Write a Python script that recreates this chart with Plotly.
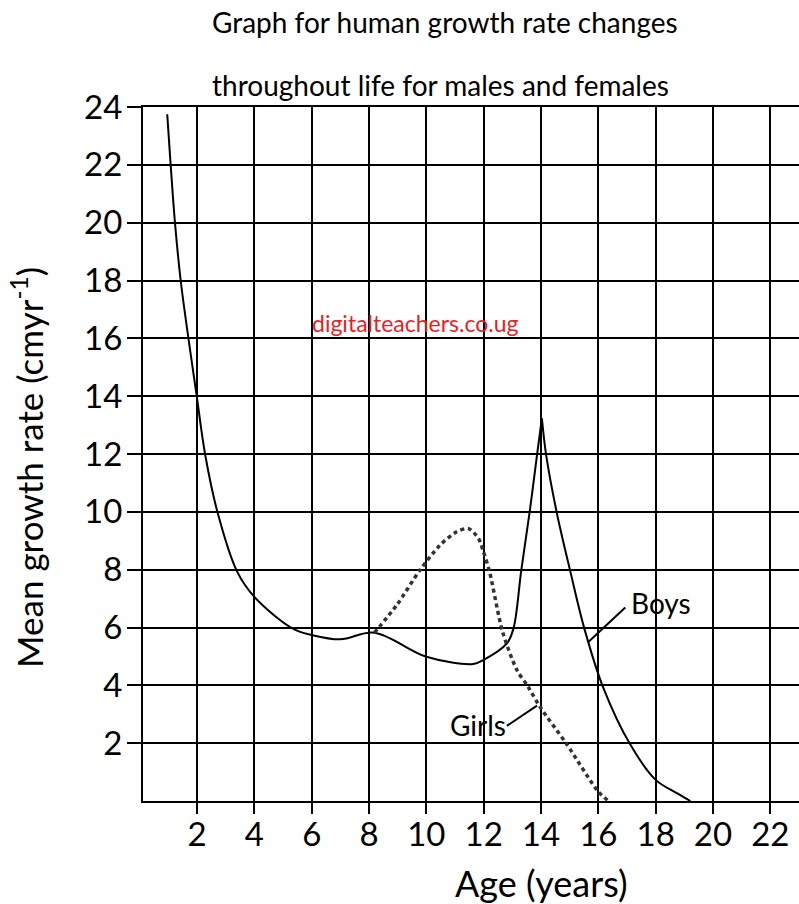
import plotly.graph_objects as go

# Boys curve (age in years, mean growth rate in cm/yr)
boys_age = [0.96, 1.08, 1.23, 1.43, 1.70, 1.99, 2.28, 2.71, 3.39, 4.0, 5.36, 6.0, 7.0, 8.19,
            10.0, 11.64, 12.0, 12.81, 13.04, 13.31, 13.6, 13.86, 14.03,
            14.18, 14.55, 15.02, 15.51, 16.16, 17.11, 18.0, 18.74, 19.21]
boys_rate = [23.75, 22.0, 20.0, 18.0, 16.0, 14.0, 12.0, 10.0, 7.95, 7.06, 5.95, 5.74, 5.59, 5.82,
             4.99, 4.74, 4.88, 5.45, 5.97, 7.97, 9.97, 11.96, 13.23,
             11.96, 9.97, 7.95, 5.97, 3.95, 1.96, 0.73, 0.27, 0.0]
boys_peak = 22  # index of the sharp peak at 14 years

# Girls curve (dotted), branches off the boys curve at 8 years
girls_age = [8.19, 8.97, 9.78, 10.48, 11.06, 11.47, 11.82, 11.99, 12.2, 12.66, 13.16, 13.55,
             13.97, 14.9, 16.0, 16.36]
girls_rate = [5.82, 6.78, 7.99, 8.85, 9.31, 9.42, 9.08, 8.62, 7.95, 5.85, 4.53, 3.95,
              3.25, 1.96, 0.32, 0.0]

x_ticks = [2, 4, 6, 8, 10, 12, 14, 16, 18, 20, 22]
y_ticks = [2, 4, 6, 8, 10, 12, 14, 16, 18, 20, 22, 24]

FONT = "Lato"

fig = go.Figure()

line_style = dict(color="black", width=2, shape="spline", smoothing=1.0)
# split at the peak so the spike keeps its point
fig.add_trace(go.Scatter(x=boys_age[:boys_peak + 1], y=boys_rate[:boys_peak + 1],
                         mode="lines", line=line_style, hoverinfo="skip"))
fig.add_trace(go.Scatter(x=boys_age[boys_peak:], y=boys_rate[boys_peak:],
                         mode="lines", line=line_style, hoverinfo="skip"))
fig.add_trace(go.Scatter(x=girls_age, y=girls_rate, mode="lines",
                         line=dict(color="#333", width=3.5, dash="4px,3.5px",
                                   shape="spline", smoothing=0.8),
                         hoverinfo="skip"))

# leader lines for the curve labels
boys_leader = (15.66, 5.51, 16.94, 6.69)
girls_leader = (12.81, 2.60, 13.86, 3.30)
shapes = []
for x0, y0, x1, y1 in (boys_leader, girls_leader):
    shapes.append(dict(type="line", xref="x", yref="y", x0=x0, y0=y0, x1=x1, y1=y1,
                       line=dict(color="black", width=2)))


def label(text, x, y, size, ref="paper", color="black", angle=0):
    yref = "y" if ref == "x" else ref
    return dict(text=text, xref=ref, yref=yref, x=x, y=y, xanchor="center",
                yanchor="middle", textangle=angle, showarrow=False,
                font=dict(size=size, color=color, family=FONT))


annotations = [
    label("Graph for human growth rate changes", 0.46, 1.1225, 28),
    label("throughout life for males and females", 0.453, 1.0317, 28),
    label("Mean growth rate (cmyr<sup>-1</sup>)", -0.1768, 0.48, 35, angle=-90),
    label("Age (years)", 0.608, -0.118, 36),
    label("digitalteachers.co.ug", 9.59, 16.53, 23, ref="x", color="#ee1c24"),
    label("Boys", 18.18, 6.85, 28, ref="x"),
    label("Girls", 11.79, 2.62, 28, ref="x"),
]

fig.update_layout(
    width=799, height=904,
    margin=dict(l=143, r=0, t=107, b=103),
    paper_bgcolor="white", plot_bgcolor="white",
    showlegend=False,
    shapes=shapes,
    annotations=annotations,
    xaxis=dict(range=[0.115, 23.0], tickvals=x_ticks, ticks="outside", ticklen=11,
               tickwidth=2, tickcolor="black", showgrid=True, gridcolor="black",
               gridwidth=2, zeroline=False, showline=True, linecolor="black",
               linewidth=2, mirror=True, automargin=False, ticklabelstandoff=-8,
               tickfont=dict(size=33, color="black", family=FONT)),
    yaxis=dict(range=[0, 24], tickvals=y_ticks, ticks="outside", ticklen=14,
               tickwidth=2, tickcolor="black", showgrid=True, gridcolor="black",
               gridwidth=2, zeroline=False, showline=True, linecolor="black",
               linewidth=2, automargin=False, ticklabelstandoff=-2,
               tickfont=dict(size=33, color="black", family=FONT)),
)

fig.write_html("out.html", config={"displayModeBar": False},
               post_script="document.body.style.margin='0';document.body.style.overflow='hidden';")
